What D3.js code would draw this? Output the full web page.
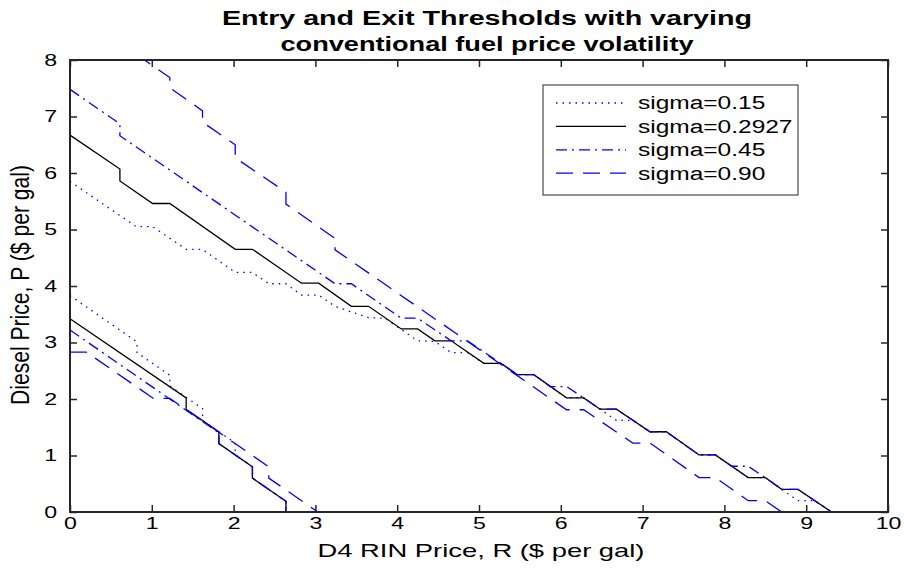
<!DOCTYPE html>
<html>
<head>
<meta charset="utf-8">
<script src="https://cdn.jsdelivr.net/npm/d3@7"></script>
<style>
  body { margin: 0; background: #fff; }
  svg text { font-family: "Liberation Sans", Arial, sans-serif; fill: #000; }
</style>
</head>
<body>
<svg id="chart" width="904" height="575"></svg>
<script>
"use strict";

// tick values
const xTicks = [0, 1, 2, 3, 4, 5, 6, 7, 8, 9, 10];
const yTicks = [0, 1, 2, 3, 4, 5, 6, 7, 8];
const legendLabels = ["sigma=0.15", "sigma=0.2927", "sigma=0.45", "sigma=0.90"];

// entry thresholds (upper curves), R = D4 RIN price, P = diesel price
const entryR15 = [0, 0.81, 1.01, 1.42, 1.62, 2.02, 2.23, 2.43, 2.64, 2.83, 3.04, 3.24, 3.44, 3.65, 3.85, 4.25, 4.46, 4.66, 4.86, 5.06, 5.27, 5.47, 5.67, 6.07, 6.28, 6.48, 6.68, 6.88, 7.09, 7.29, 7.69, 7.89, 8.29, 8.5, 8.7, 8.9, 9.1, 9.31];
const entryP15 = [5.85, 5.05, 5.05, 4.65, 4.65, 4.24, 4.24, 4.04, 4.04, 3.84, 3.84, 3.64, 3.54, 3.44, 3.43, 3.03, 3.02, 2.82, 2.82, 2.63, 2.63, 2.43, 2.43, 2.02, 2.02, 1.82, 1.62, 1.62, 1.42, 1.42, 1.01, 1.01, 0.61, 0.61, 0.40, 0.20, 0.20, 0];

const entryR2927 = [0, 0.61, 0.61, 1.01, 1.22, 2.02, 2.23, 2.83, 3.04, 3.44, 3.65, 4.05, 4.25, 4.46, 4.66, 5.06, 5.27, 5.47, 5.67, 6.07, 6.28, 6.48, 6.68, 7.09, 7.29, 7.69, 7.89, 8.29, 8.5, 8.7, 8.9, 9.31];
const entryP2927 = [6.67, 6.07, 5.86, 5.46, 5.46, 4.65, 4.65, 4.05, 4.05, 3.64, 3.64, 3.24, 3.24, 3.03, 3.03, 2.63, 2.63, 2.43, 2.43, 2.02, 2.02, 1.82, 1.82, 1.42, 1.42, 1.01, 1.01, 0.61, 0.61, 0.40, 0.40, 0];

const entryR45 = [0, 0.61, 0.61, 3.24, 3.44, 4.05, 4.25, 4.66, 4.86, 5.47, 5.67, 5.87, 6.07, 6.28, 6.48, 6.68, 7.09, 7.29, 7.69, 7.89, 8.09, 8.29, 8.5, 8.7, 8.9, 9.31];
const entryP45 = [7.48, 6.87, 6.66, 4.04, 4.04, 3.43, 3.43, 3.03, 3.03, 2.43, 2.43, 2.22, 2.22, 2.02, 1.82, 1.82, 1.42, 1.42, 1.01, 1.01, 0.81, 0.81, 0.61, 0.40, 0.40, 0];

const entryR90 = [0.81, 1.22, 1.22, 1.62, 1.62, 2.02, 2.02, 2.64, 2.64, 3.24, 3.24, 6.07, 6.28, 6.88, 7.09, 7.69, 7.89, 8.29, 8.5, 8.7];
const entryP90 = [8.1, 7.69, 7.51, 7.1, 6.9, 6.5, 6.27, 5.66, 5.45, 4.84, 4.64, 1.81, 1.81, 1.22, 1.22, 0.61, 0.61, 0.2, 0.2, 0];

// exit thresholds (lower curves)
const exitR15 = [0, 0.82, 0.82, 1.22, 1.22, 1.62, 1.62, 2.02, 2.02, 2.23, 2.23, 2.64, 2.64];
const exitP15 = [3.83, 3.01, 2.82, 2.42, 2.23, 1.83, 1.62, 1.22, 1.01, 0.8, 0.6, 0.19, 0];

const exitR2927 = [0, 1.42, 1.42, 1.82, 1.82, 2.23, 2.23, 2.64, 2.64];
const exitP2927 = [3.42, 2.02, 1.82, 1.42, 1.21, 0.8, 0.6, 0.19, 0];

const exitR45 = [0, 1.82, 1.82, 2.23, 2.23, 2.64, 2.64];
const exitP45 = [3.22, 1.4, 1.21, 0.8, 0.6, 0.19, 0];

const exitR90 = [0, 0.2, 1.02, 1.22, 2.43, 2.43, 3.03];
const exitP90 = [2.83, 2.83, 2.01, 2.01, 0.8, 0.6, 0];

// line look per sigma (same order as legendLabels)
const lineStyles = [
  { color: "#0000ff", dash: "1.5,5" },
  { color: "#000000", dash: null },
  { color: "#0000ff", dash: "11,5,2,5" },
  { color: "#0000ff", dash: "17,10" }
];

const series = [
  { r: entryR15, p: entryP15, s: 0 }, { r: exitR15, p: exitP15, s: 0 },
  { r: entryR2927, p: entryP2927, s: 1 }, { r: exitR2927, p: exitP2927, s: 1 },
  { r: entryR45, p: entryP45, s: 2 }, { r: exitR45, p: exitP45, s: 2 },
  { r: entryR90, p: entryP90, s: 3 }, { r: exitR90, p: exitP90, s: 3 }
];

const SX = 1.36; // the reference text is stretched horizontally
const axisColor = "#262626";

const svg = d3.select("#chart");
const x = d3.scaleLinear().domain([0, 10]).range([70, 888]);
const y = d3.scaleLinear().domain([0, 8]).range([512, 60]);

svg.append("defs").append("clipPath").attr("id", "plotClip")
  .append("rect")
  .attr("x", x(0)).attr("y", y(8))
  .attr("width", x(10) - x(0)).attr("height", y(0) - y(8));

// data lines
const line = d3.line().x((d) => x(d[0])).y((d) => y(d[1]));
svg.append("g").attr("clip-path", "url(#plotClip)")
  .selectAll("path")
  .data(series)
  .enter()
  .append("path")
  .attr("d", (d) => line(d.r.map((v, i) => [v, d.p[i]])))
  .attr("fill", "none")
  .attr("stroke", (d) => lineStyles[d.s].color)
  .attr("stroke-width", 1.3)
  .attr("stroke-dasharray", (d) => lineStyles[d.s].dash);

// axes, ticks pointing inward on all four sides
const styleAxis = (g) => {
  g.select(".domain").remove();
  g.selectAll(".tick line").attr("stroke", axisColor).attr("stroke-width", 1.5);
  g.selectAll(".tick text").attr("fill", "#000").style("font-size", "17px")
    .attr("font-family", null);
};

svg.append("g").attr("transform", `translate(0,${y(0)})`)
  .call(d3.axisBottom(x).tickValues(xTicks).tickSize(-7).tickPadding(5).tickFormat(d3.format("d")))
  .call(styleAxis).attr("class", "xaxis");
svg.append("g").attr("transform", `translate(0,${y(8)})`)
  .call(d3.axisTop(x).tickValues(xTicks).tickSize(-7).tickFormat(""))
  .call(styleAxis);
svg.append("g").attr("transform", `translate(${x(0)},0)`)
  .call(d3.axisLeft(y).tickValues(yTicks).tickSize(-7).tickPadding(13).tickFormat(d3.format("d")))
  .call(styleAxis).attr("class", "yaxis");
svg.append("g").attr("transform", `translate(${x(10)},0)`)
  .call(d3.axisRight(y).tickValues(yTicks).tickSize(-7).tickFormat(""))
  .call(styleAxis);

svg.append("rect")
  .attr("x", x(0)).attr("y", y(8))
  .attr("width", x(10) - x(0)).attr("height", y(0) - y(8))
  .attr("fill", "none").attr("stroke", axisColor).attr("stroke-width", 2);

// stretch tick labels like the reference
svg.selectAll(".xaxis .tick text, .yaxis .tick text").each(function () {
  const w = this.getComputedTextLength();
  d3.select(this).attr("textLength", w * SX).attr("lengthAdjust", "spacingAndGlyphs");
});

// title
const title = svg.append("text")
  .attr("text-anchor", "middle")
  .style("font-size", "20px").style("font-weight", "bold");
title.append("tspan").attr("x", 487).attr("y", 25)
  .attr("textLength", 530).attr("lengthAdjust", "spacingAndGlyphs")
  .text("Entry and Exit Thresholds with varying");
title.append("tspan").attr("x", 487).attr("y", 51)
  .attr("textLength", 413).attr("lengthAdjust", "spacingAndGlyphs")
  .text("conventional fuel price volatility");

// axis labels
svg.append("text")
  .attr("x", 481).attr("y", 557)
  .attr("text-anchor", "middle")
  .style("font-size", "19px")
  .attr("textLength", 327).attr("lengthAdjust", "spacingAndGlyphs")
  .text("D4 RIN Price, R ($ per gal)");

svg.append("g")
  .attr("transform", `translate(29,285) scale(${SX},1) rotate(-90)`)
  .append("text")
  .attr("text-anchor", "middle")
  .style("font-size", "19px")
  .attr("textLength", 240).attr("lengthAdjust", "spacingAndGlyphs")
  .text("Diesel Price, P ($ per gal)");

// legend
const legend = svg.append("g");
legend.append("rect")
  .attr("x", 543).attr("y", 85).attr("width", 255).attr("height", 110)
  .attr("fill", "#fff").attr("stroke", axisColor).attr("stroke-width", 1);

const rows = legend.selectAll("g.row")
  .data(legendLabels)
  .enter()
  .append("g")
  .attr("class", "row")
  .attr("transform", (d, i) => `translate(0,${103 + i * 23.4})`);

rows.append("line")
  .attr("x1", 556).attr("x2", 626).attr("y1", 0).attr("y2", 0)
  .attr("stroke", (d, i) => lineStyles[i].color)
  .attr("stroke-width", 1.3)
  .attr("stroke-dasharray", (d, i) => lineStyles[i].dash);

rows.append("text")
  .attr("x", 638).attr("y", 0).attr("dy", "0.36em")
  .style("font-size", "18px")
  .text((d) => d)
  .each(function () {
    const w = this.getComputedTextLength();
    d3.select(this).attr("textLength", w * SX).attr("lengthAdjust", "spacingAndGlyphs");
  });
</script>
</body>
</html>
